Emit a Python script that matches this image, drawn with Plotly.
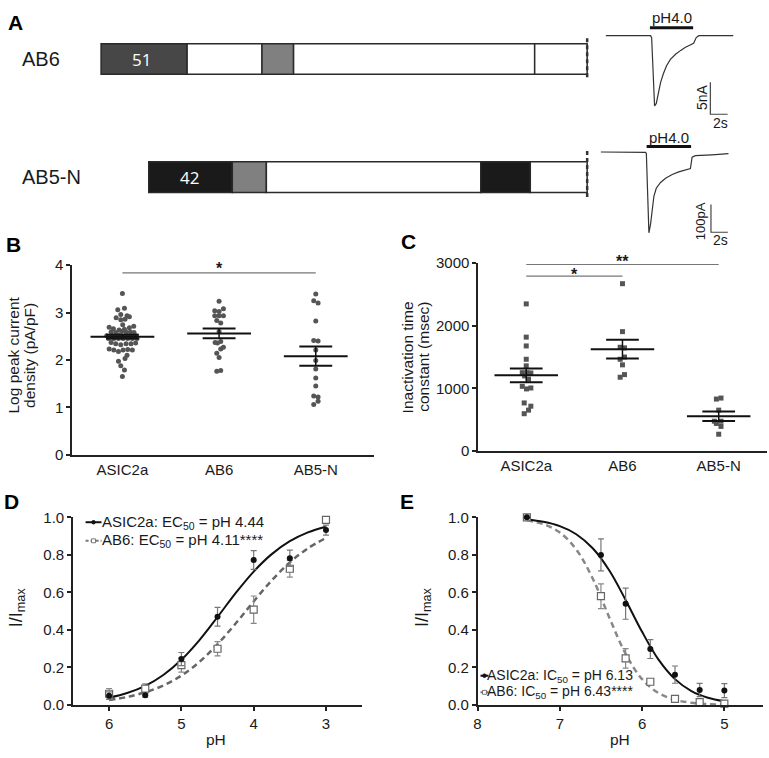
import plotly.graph_objects as go

W, H = 769, 758
FONT = "Arial, 'Liberation Sans', Helvetica, sans-serif"
INK = "#1a1a1a"


def px(x):
    return x / W


def py(y):
    return 1 - y / H


# ---------------- Panel A data ----------------
construct_names = ["AB6", "AB5-N"]
ab6_bounds = [0, 17.7, 33.1, 39.6, 89.2, 100]
ab6_colors = ["#474747", "white", "#808080", "white", "white"]
ab6_block_label = "51"
ab5n_bounds = [9.8, 27.0, 34.0, 78.1, 88.3, 100]
ab5n_colors = ["#1a1a1a", "#808080", "white", "#1a1a1a", "white"]
ab5n_block_label = "42"

# current traces (time in s, current in nA / pA)
ab6_t = [0, 5.2, 5.32, 5.5, 5.66, 5.86, 6.0, 6.16, 6.36, 6.67, 7.05, 7.5, 8.1, 8.7,
         9.25, 9.8, 10.2, 10.5, 10.8, 14.8]
ab6_i = [0, 0, -0.3, -6.0, -11.0, -10.6, -9.6, -8.3, -7.3, -6.0, -4.7, -3.7, -2.9,
         -2.3, -1.8, -1.45, -1.2, -0.3, 0, 0]
ab6_ph_on = [5.12, 10.14]
ab5n_t = [0, 5.29, 5.38, 5.68, 5.88, 6.08, 6.27, 6.55, 7.06, 7.65, 8.44, 9.21, 10.0,
          10.59, 10.79, 11.18, 13.14, 15.09]
ab5n_i = [0, -1.4, -6, -292, -260, -201, -160, -131, -110, -95, -81, -72, -64, -60,
          -19, -13, -10, -6]
ab5n_ph_on = [5.41, 10.67]
scale_t = 2        # s
scale_i_ab6 = 5    # nA
scale_i_ab5n = 100 # pA

# ---------------- Panel B data ----------------
groups = ["ASIC2a", "AB6", "AB5-N"]
B_asic = [3.40, 3.06, 3.09, 2.89, 2.96, 2.93, 2.91, 2.85, 2.86, 2.74, 2.69, 2.66, 2.63,
          2.65, 2.68, 2.71, 2.59, 2.58, 2.60, 2.59, 2.59, 2.58, 2.51, 2.49, 2.51, 2.52,
          2.49, 2.49, 2.51, 2.51, 2.45, 2.45, 2.45, 2.45, 2.45, 2.45, 2.45, 2.37, 2.34,
          2.32, 2.34, 2.34, 2.36, 2.23, 2.21, 2.18, 2.21, 2.22, 2.21, 2.10, 2.03, 1.97,
          1.88, 1.79, 1.65]
B_asic_jit = [0, -0.048, 0.021, -0.065, -0.017, 0.048, 0.072, -0.017, 0.027, 0.003,
              -0.137, -0.093, -0.034, 0.021, 0.072, 0.117, -0.117, -0.069, -0.007, 0.038,
              0.082, 0.120, -0.162, -0.117, -0.076, -0.041, 0.007, 0.052, 0.096, 0.141,
              -0.144, -0.089, -0.041, 0.007, 0.055, 0.103, 0.151, -0.117, -0.069, -0.017,
              0.038, 0.089, 0.137, -0.137, -0.089, -0.041, 0.007, 0.055, 0.103, 0.048,
              0.027, -0.041, -0.017, 0.021, 0]
B_ab6 = [3.24, 3.04, 3.02, 3.08, 2.93, 2.93, 2.93, 2.83, 2.78, 2.60, 2.37, 2.36, 2.39,
         2.27, 2.23, 2.14, 2.05, 1.76, 1.78]
B_ab6_jit = [0, -0.045, 0, 0.045, -0.045, 0, 0.045, -0.024, 0.017, 0, -0.041, -0.017,
             0.017, 0.045, 0.017, -0.024, 0, -0.024, 0.017]
B_ab5n = [3.39, 3.25, 3.20, 2.82, 2.41, 2.40, 2.21, 1.99, 1.81, 1.62, 1.45, 1.24, 1.22,
          1.13, 1.06]
B_ab5n_jit = [0, -0.021, 0.024, 0, -0.021, 0.024, 0, 0, 0, 0, 0, -0.021, 0.024, 0.024,
              -0.021]
B_mean = [2.49, 2.56, 2.08]
B_sem = [0.04, 0.105, 0.205]

# ---------------- Panel C data ----------------
C_asic = [2349, 1818, 1677, 1464, 1359, 1250, 1250, 1245, 1198, 1146, 1031, 990, 1005,
          766, 714, 651, 594]
C_asic_jit = [0, 0, 0, 0, 0, -0.041, 0.007, 0.048, -0.017, 0.024, -0.041, 0.003, 0.048,
              -0.021, 0.048, 0.024, -0.021]
C_ab6 = [2672, 1906, 1656, 1646, 1500, 1464, 1375, 1177, 1219]
C_ab6_jit = [0, 0, -0.024, 0.021, 0.021, -0.024, 0, -0.024, 0.021]
C_ab5n = [828, 844, 651, 474, 474, 438, 391, 266]
C_ab5n_jit = [-0.024, 0.024, 0, -0.045, 0.024, -0.024, 0.024, 0]
C_mean = [1208, 1625, 552]
C_sem = [110, 150, 76]

# ---------------- Panel D data ----------------
D_pH = [6, 5.5, 5, 4.5, 4, 3.5, 3]
D_asic = [0.05, 0.052, 0.245, 0.47, 0.773, 0.782, 0.932]
D_asic_sem = [0.02, 0.01, 0.035, 0.05, 0.05, 0.043, 0.027]
D_ab6 = [0.06, 0.087, 0.213, 0.30, 0.508, 0.726, 0.987]
D_ab6_sem = [0.028, 0.026, 0.038, 0.038, 0.073, 0.045, 0.012]
D_fit_pH = [6.0, 5.75, 5.5, 5.25, 5.0, 4.75, 4.5, 4.25, 4.0, 3.75, 3.5, 3.25, 3.0]
D_fit_asic = [0.039, 0.064, 0.102, 0.160, 0.241, 0.346, 0.469, 0.596, 0.711, 0.804,
              0.873, 0.920, 0.950]
D_fit_ab6 = [0.027, 0.043, 0.068, 0.104, 0.157, 0.230, 0.324, 0.434, 0.552, 0.664,
             0.760, 0.835, 0.890]

# ---------------- Panel E data ----------------
E_pH = [7.4, 6.5, 6.2, 5.9, 5.6, 5.3, 5.0]
E_asic = [1.0, 0.80, 0.54, 0.298, 0.162, 0.08, 0.077]
E_asic_sem = [0.005, 0.085, 0.083, 0.05, 0.046, 0.035, 0.037]
E_ab6 = [1.0, 0.58, 0.249, 0.124, 0.033, 0.016, 0.007]
E_ab6_sem = [0.005, 0.066, 0.052, 0.01, 0.006, 0.005, 0.004]
E_fit_pH = [7.4, 7.2, 7.0, 6.8, 6.6, 6.4, 6.2, 6.0, 5.8, 5.6, 5.4, 5.2, 5.0]
E_fit_asic = [0.988, 0.976, 0.953, 0.910, 0.835, 0.718, 0.560, 0.390, 0.242, 0.138,
              0.074, 0.039, 0.020]
E_fit_ab6 = [0.984, 0.964, 0.919, 0.829, 0.674, 0.468, 0.273, 0.138, 0.064, 0.028,
             0.012, 0.005, 0.002]

fig = go.Figure()
annotations = []
shapes = []


def ann(text, x, y, xref="paper", yref="paper", size=15, color=INK, angle=0,
        xanchor="center", yanchor="middle", bold=False, family=FONT):
    if bold:
        text = "<b>" + text + "</b>"
    annotations.append(dict(text=text, x=x, y=y, xref=xref, yref=yref, showarrow=False,
                            font=dict(size=size, color=color, family=family),
                            textangle=angle, xanchor=xanchor, yanchor=yanchor))


# ================= Panel A: constructs =================
def segments(bounds, colors, yval):
    starts = bounds[:-1]
    lengths = [b - a for a, b in zip(bounds[:-1], bounds[1:])]
    return starts, lengths, [yval] * len(starts), colors


s1, l1, y1, c1 = segments(ab6_bounds, ab6_colors, 1)
s2, l2, y2, c2 = segments(ab5n_bounds, ab5n_colors, 0)
fig.add_trace(go.Bar(orientation="h", base=s1 + s2, x=l1 + l2, y=y1 + y2, width=0.26,
                     marker=dict(color=c1 + c2, line=dict(color="#2a2a2a", width=1.5)),
                     xaxis="x", yaxis="y", showlegend=False, hoverinfo="skip"))
fig.add_trace(go.Scatter(x=[ab6_bounds[-1]] * 2 + [None] + [ab5n_bounds[-1]] * 2,
                         y=[1.175, 0.82, None, 0.22, -0.19], mode="lines",
                         line=dict(color="#333", width=2.5, dash="4px,3px"),
                         xaxis="x", yaxis="y", showlegend=False, hoverinfo="skip",
                         cliponaxis=False))
ann(ab6_block_label, (ab6_bounds[0] + ab6_bounds[1]) / 2 - 0.5, 1, "x", "y", size=17,
    color="white", family="'Open Sans', sans-serif")
ann(ab5n_block_label, (ab5n_bounds[0] + ab5n_bounds[1]) / 2 - 0.3, 0, "x", "y", size=17,
    color="white", family="'Open Sans', sans-serif")
ann(construct_names[0], px(16), 1, "paper", "y", size=20, xanchor="left")
ann(construct_names[1], px(16), 0, "paper", "y", size=20, xanchor="left")

# ================= Panel A: current traces =================
TR = "#333"
fig.add_trace(go.Scatter(x=ab6_t, y=ab6_i, mode="lines", line=dict(color=TR, width=1.2),
                         xaxis="x2", yaxis="y2", showlegend=False, hoverinfo="skip"))
fig.add_trace(go.Scatter(x=ab6_ph_on, y=[1.22, 1.22], mode="lines",
                         line=dict(color="#111", width=3), xaxis="x2", yaxis="y2",
                         showlegend=False, hoverinfo="skip"))
sb_t0, sb_i0 = 12.14, -7.29
fig.add_trace(go.Scatter(x=[sb_t0, sb_t0, sb_t0 + scale_t],
                         y=[sb_i0, sb_i0 - scale_i_ab6, sb_i0 - scale_i_ab6], mode="lines",
                         line=dict(color="#444", width=1.2), xaxis="x2", yaxis="y2",
                         showlegend=False, hoverinfo="skip"))
ann("pH4.0", sum(ab6_ph_on) / 2, 2.9, "x2", "y2", size=15)
ann("5nA", 11.18, -9.59, "x2", "y2", size=14, angle=-90)
ann("2s", 13.3, -13.7, "x2", "y2", size=14)

fig.add_trace(go.Scatter(x=ab5n_t, y=ab5n_i, mode="lines", line=dict(color=TR, width=1.2),
                         xaxis="x3", yaxis="y3", showlegend=False, hoverinfo="skip"))
fig.add_trace(go.Scatter(x=ab5n_ph_on, y=[19.8, 19.8], mode="lines",
                         line=dict(color="#111", width=3), xaxis="x3", yaxis="y3",
                         showlegend=False, hoverinfo="skip"))
sb_t1, sb_i1 = 13.02, -190
fig.add_trace(go.Scatter(x=[sb_t1, sb_t1, sb_t1 + scale_t],
                         y=[sb_i1, sb_i1 - scale_i_ab5n, sb_i1 - scale_i_ab5n], mode="lines",
                         line=dict(color="#444", width=1.2), xaxis="x3", yaxis="y3",
                         showlegend=False, hoverinfo="skip"))
ann("pH4.0", sum(ab5n_ph_on) / 2, 51.6, "x3", "y3", size=15)
ann("100pA", 11.88, -249, "x3", "y3", size=13, angle=-90)
ann("2s", 14.1, -319, "x3", "y3", size=14)


# ================= Panel B / C: scatter with mean ± SEM =================
def dot_panel(xa, ya, vals_list, jit_list, means, sems, symbol):
    for gi, (vals, jit) in enumerate(zip(vals_list, jit_list)):
        fig.add_trace(go.Scatter(x=[gi + j for j in jit], y=vals, mode="markers",
                                 marker=dict(symbol=symbol, size=5, color="#555"),
                                 xaxis=xa, yaxis=ya, showlegend=False, hoverinfo="skip",
                                 cliponaxis=False))
    mx, my, cx, cy, vx, vy = [], [], [], [], [], []
    for gi, (m, s) in enumerate(zip(means, sems)):
        mx += [gi - 0.33, gi + 0.33, None]
        my += [m, m, None]
        cx += [gi - 0.17, gi + 0.17, None, gi - 0.17, gi + 0.17, None]
        cy += [m + s, m + s, None, m - s, m - s, None]
        vx += [gi, gi, None]
        vy += [m - s, m + s, None]
    fig.add_trace(go.Scatter(x=vx, y=vy, mode="lines", line=dict(color="#111", width=1.5),
                             xaxis=xa, yaxis=ya, showlegend=False, hoverinfo="skip"))
    fig.add_trace(go.Scatter(x=mx, y=my, mode="lines", line=dict(color="#111", width=2),
                             xaxis=xa, yaxis=ya, showlegend=False, hoverinfo="skip"))
    fig.add_trace(go.Scatter(x=cx, y=cy, mode="lines", line=dict(color="#111", width=2),
                             xaxis=xa, yaxis=ya, showlegend=False, hoverinfo="skip"))


dot_panel("x4", "y4", [B_asic, B_ab6, B_ab5n], [B_asic_jit, B_ab6_jit, B_ab5n_jit],
          B_mean, B_sem, "circle")
dot_panel("x5", "y5", [C_asic, C_ab6, C_ab5n], [C_asic_jit, C_ab6_jit, C_ab5n_jit],
          C_mean, C_sem, "square")

SIG = "#777"
fig.add_trace(go.Scatter(x=[0, 2], y=[3.835, 3.835], mode="lines",
                         line=dict(color=SIG, width=1.2), xaxis="x4", yaxis="y4",
                         showlegend=False, hoverinfo="skip", cliponaxis=False))
ann("*", 1, 3.92, "x4", "y4", size=16, bold=True)
fig.add_trace(go.Scatter(x=[0, 2, None, 0, 1], y=[2979, 2979, None, 2792, 2792],
                         mode="lines", line=dict(color=SIG, width=1.2), xaxis="x5",
                         yaxis="y5", showlegend=False, hoverinfo="skip", cliponaxis=False))
# the "**" sits above the axis range, so its height is given in paper units
ann("**", 1, py(258), "x5", "paper", size=16, bold=True)
ann("*", 0.5, 2823, "x5", "y5", size=16, bold=True)


# ================= Panel D / E: dose-response =================
def dose_panel(xa, ya, fit_x, fit_a, fit_b, px_, a, a_sem, b, b_sem, dash_col):
    fig.add_trace(go.Scatter(x=fit_x, y=fit_b, mode="lines", line_shape="spline",
                             line=dict(color=dash_col, width=2.5, dash="6px,4px"),
                             xaxis=xa, yaxis=ya, showlegend=False, hoverinfo="skip",
                             cliponaxis=False))
    fig.add_trace(go.Scatter(x=fit_x, y=fit_a, mode="lines", line_shape="spline",
                             line=dict(color="#111", width=2), xaxis=xa, yaxis=ya,
                             showlegend=False, hoverinfo="skip", cliponaxis=False))
    fig.add_trace(go.Scatter(x=px_, y=b, mode="markers",
                             error_y=dict(type="data", array=b_sem, color="#888",
                                          thickness=1.2, width=3),
                             marker=dict(symbol="square", size=7, color="white",
                                         line=dict(color="#666", width=1.2)),
                             xaxis=xa, yaxis=ya, showlegend=False, hoverinfo="skip",
                             cliponaxis=False))
    fig.add_trace(go.Scatter(x=px_, y=a, mode="markers",
                             error_y=dict(type="data", array=a_sem, color="#777",
                                          thickness=1.2, width=3),
                             marker=dict(symbol="circle", size=6, color="#111"),
                             xaxis=xa, yaxis=ya, showlegend=False, hoverinfo="skip",
                             cliponaxis=False))


dose_panel("x6", "y6", D_fit_pH, D_fit_asic, D_fit_ab6, D_pH, D_asic, D_asic_sem,
           D_ab6, D_ab6_sem, "#666")
dose_panel("x7", "y7", E_fit_pH, E_fit_asic, E_fit_ab6, E_pH, E_asic, E_asic_sem,
           E_ab6, E_ab6_sem, "#888")


def legend_item(x0, x1, y, solid, text, tx, size):
    cxm = (x0 + x1) / 2
    if solid:
        shapes.append(dict(type="line", xref="paper", yref="paper", x0=px(x0), x1=px(x1),
                           y0=py(y), y1=py(y), line=dict(color="#111", width=2)))
        shapes.append(dict(type="circle", xref="paper", yref="paper", x0=px(cxm - 1.8),
                           x1=px(cxm + 1.8), y0=py(y + 1.8), y1=py(y - 1.8),
                           fillcolor="#111", line=dict(color="#111", width=1)))
    else:
        shapes.append(dict(type="line", xref="paper", yref="paper", x0=px(x0), x1=px(x1),
                           y0=py(y), y1=py(y),
                           line=dict(color="#777", width=2, dash="3px,2px")))
        shapes.append(dict(type="rect", xref="paper", yref="paper", x0=px(cxm - 2),
                           x1=px(cxm + 2), y0=py(y + 2), y1=py(y - 2),
                           fillcolor="white", line=dict(color="#777", width=1)))
    ann(text, px(tx), py(y), xanchor="left", size=size)


legend_item(82, 98, 525, True, "ASIC2a: EC<sub>50</sub> = pH 4.44", 96, 15)
legend_item(82, 98, 544, False, "AB6: EC<sub>50</sub> = pH 4.11****", 96, 15)
legend_item(479, 487, 682, True, "ASIC2a: IC<sub>50</sub> = pH 6.13", 484, 14)
legend_item(479, 487, 699, False, "AB6: IC<sub>50</sub> = pH 6.43****", 484, 14)

# ================= axis titles & panel letters =================
ann("Log peak current", px(9.5), py(354), size=15.5, angle=-90)
ann("density (pA/pF)", px(25), py(354), size=15.5, angle=-90)
ann("Inactivation time", px(405.5), py(356), size=15.5, angle=-90)
ann("constant (msec)", px(421), py(356), size=15.5, angle=-90)
ann("I/I<sub>max</sub>", px(13), py(612), size=18, angle=-90)
ann("I/I<sub>max</sub>", px(421), py(612), size=18, angle=-90)
ann("pH", px(213), py(747), size=15.5)
ann("pH", px(619), py(747), size=15.5)
for letter, lx, ly in [("A", 12, 14), ("B", 10, 241), ("C", 407, 238), ("D", 8, 504),
                       ("E", 405, 504)]:
    ann(letter, px(lx), py(ly), size=21, bold=True, color="#000")

# ================= axes =================
hidden = dict(visible=False, showgrid=False, zeroline=False, fixedrange=True)
tickfont = dict(size=15, family=FONT, color=INK)
base_ax = dict(showline=True, linecolor="#222", linewidth=1.5, showgrid=False,
               zeroline=False, ticks="outside", ticklen=4, tickwidth=1.5,
               tickcolor="#222", tickfont=tickfont)

layout = dict(
    width=W, height=H, margin=dict(l=0, r=0, t=0, b=0),
    paper_bgcolor="white", plot_bgcolor="white", barmode="overlay",
    font=dict(family=FONT, color=INK), showlegend=False,
    xaxis=dict(hidden, domain=[px(90), px(600)], range=[-1.555, 102.82], anchor="y"),
    yaxis=dict(hidden, domain=[py(208.2), py(27)], range=[-0.3, 1.2], anchor="x"),
    xaxis2=dict(hidden, domain=[px(600), px(745)], range=[-0.578, 16.18], anchor="y2"),
    yaxis2=dict(hidden, domain=[py(119), py(0)], range=[-14.02, 4.17], anchor="x2"),
    xaxis3=dict(hidden, domain=[px(595), px(745)], range=[-0.588, 17.06], anchor="y3"),
    yaxis3=dict(hidden, domain=[py(245), py(120)], range=[-348.8, 92.9], anchor="x3"),
    xaxis4=dict(base_ax, domain=[px(68.5), px(371.7)], range=[-0.52, 2.6], anchor="y4",
                tickvals=[0, 1, 2], ticktext=groups, ticks=""),
    yaxis4=dict(base_ax, domain=[py(456), py(262)], range=[0, 4], anchor="x4",
                tickvals=[0, 1, 2, 3, 4]),
    xaxis5=dict(base_ax, domain=[px(476.6), px(766.8)], range=[-0.5, 2.5], anchor="y5",
                tickvals=[0, 1, 2], ticktext=groups, ticks=""),
    yaxis5=dict(base_ax, domain=[py(452), py(260)], range=[0, 3000], anchor="x5",
                tickvals=[0, 1000, 2000, 3000]),
    xaxis6=dict(base_ax, domain=[px(69.3), px(360)], range=[6.5, 2.5], anchor="y6",
                tickvals=[6, 5, 4, 3]),
    yaxis6=dict(base_ax, domain=[py(712), py(520)], range=[0, 1.0], anchor="x6",
                tickvals=[0, 0.2, 0.4, 0.6, 0.8, 1.0], tickformat=".1f"),
    xaxis7=dict(base_ax, domain=[px(476), px(763)], range=[8, 4.53], anchor="y7",
                tickvals=[8, 7, 6, 5]),
    yaxis7=dict(base_ax, domain=[py(712), py(520)], range=[0, 1.0], anchor="x7",
                tickvals=[0, 0.2, 0.4, 0.6, 0.8, 1.0], tickformat=".1f"),
    annotations=annotations, shapes=shapes,
)
fig.update_layout(**layout)
fig.write_html("out.html", config={"displayModeBar": False},
               post_script="document.body.style.margin='0';"
                           "document.body.style.overflow='hidden';")
